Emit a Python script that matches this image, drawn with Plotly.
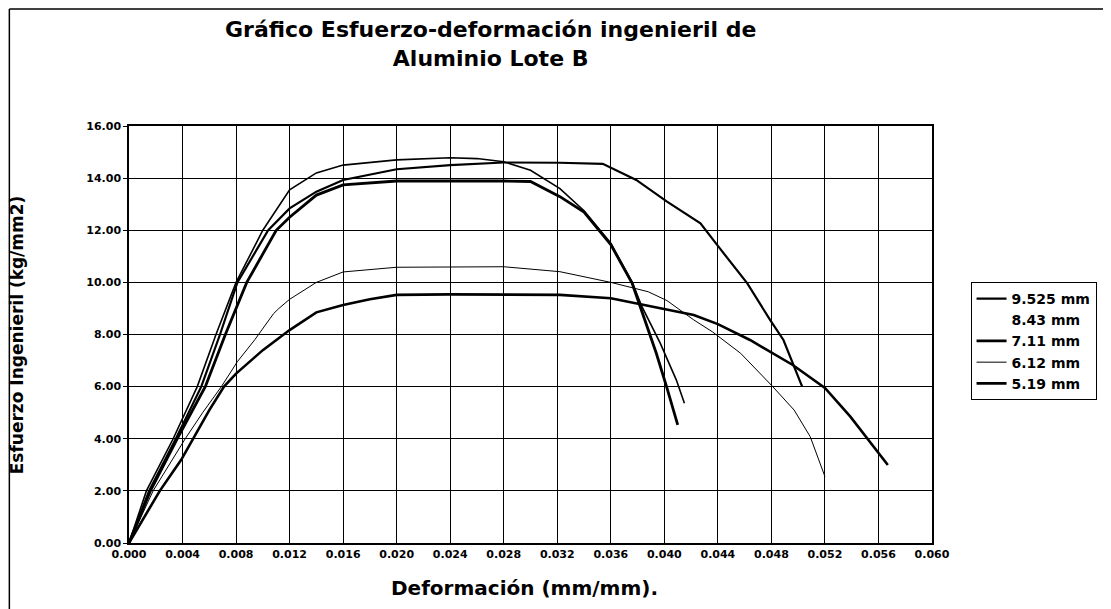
import plotly.graph_objects as go

# ---------------- data ----------------
series_names = ["9.525 mm", "8.43 mm", "7.11 mm", "6.12 mm", "5.19 mm"]

x_9525 = [0, 0.0015, 0.0035, 0.0054, 0.0068, 0.0081, 0.0104, 0.012, 0.014, 0.016, 0.020,
          0.024, 0.028, 0.0322, 0.0354, 0.0379, 0.0402, 0.0427, 0.044, 0.0462, 0.0479,
          0.0489, 0.0503]
y_9525 = [0, 2.0, 4.0, 6.0, 8.0, 10.0, 12.0, 12.84, 13.48, 13.93, 14.34,
          14.5, 14.6, 14.59, 14.55, 13.93, 13.1, 12.27, 11.4, 9.96, 8.56,
          7.79, 6.0]

x_843 = [0, 0.0013, 0.0033, 0.0051, 0.0065, 0.0080, 0.0100, 0.012, 0.014, 0.016, 0.020,
         0.024, 0.026, 0.028, 0.030, 0.0322, 0.034, 0.036, 0.0376, 0.0383, 0.0397,
         0.0409, 0.0415]
y_843 = [0, 2.0, 4.0, 6.0, 8.0, 10.0, 12.0, 13.55, 14.2, 14.5, 14.7,
         14.78, 14.75, 14.63, 14.3, 13.6, 12.75, 11.5, 10.0, 9.1, 7.66,
         6.25, 5.36]

x_711 = [0, 0.0016, 0.0036, 0.0057, 0.0072, 0.0088, 0.0110, 0.012, 0.014, 0.016, 0.020,
         0.024, 0.028, 0.030, 0.0322, 0.034, 0.036, 0.0376, 0.0381, 0.0394, 0.0402, 0.041]
y_711 = [0, 2.0, 4.0, 6.0, 8.0, 10.0, 12.0, 12.5, 13.35, 13.74, 13.89,
         13.9, 13.89, 13.87, 13.29, 12.7, 11.45, 9.96, 9.2, 7.28, 5.94, 4.53]

x_612 = [0, 0.0018, 0.0042, 0.0055, 0.0069, 0.0081, 0.0094, 0.0108, 0.0112, 0.012, 0.014,
         0.016, 0.020, 0.024, 0.028, 0.0322, 0.036, 0.0388, 0.0402, 0.0422, 0.0436,
         0.0457, 0.0481, 0.0497, 0.0509, 0.052]
y_612 = [0, 2.0, 4.0, 5.0, 6.0, 6.96, 7.8, 8.8, 9.0, 9.35, 10.0,
         10.4, 10.58, 10.6, 10.6, 10.41, 10.0, 9.64, 9.3, 8.56, 8.1,
         7.28, 6.0, 5.1, 4.08, 2.55]

x_519 = [0, 0.0023, 0.0039, 0.0048, 0.006, 0.0071, 0.008, 0.010, 0.012, 0.014, 0.016,
         0.018, 0.020, 0.024, 0.028, 0.0322, 0.036, 0.0399, 0.0422, 0.044, 0.0464,
         0.0496, 0.052, 0.0539, 0.0567]
y_519 = [0, 2.0, 3.19, 4.0, 5.1, 6.0, 6.5, 7.4, 8.17, 8.85, 9.13,
         9.35, 9.52, 9.54, 9.52, 9.52, 9.39, 9.0, 8.75, 8.4, 7.79,
         6.83, 5.95, 4.85, 2.99]

x_ticks = [0.000, 0.004, 0.008, 0.012, 0.016, 0.020, 0.024, 0.028, 0.032, 0.036,
           0.040, 0.044, 0.048, 0.052, 0.056, 0.060]
y_ticks = [0, 2, 4, 6, 8, 10, 12, 14, 16]

title_text = "Gráfico Esfuerzo-deformación ingenieril de<br>Aluminio Lote B"
x_title = "Deformación (mm/mm)."
y_title = "Esfuerzo Ingenieril (kg/mm2)"

# ---------------- figure ----------------
FONT = "DejaVu Sans"
fig = go.Figure()

fig.add_trace(go.Scatter(x=x_9525, y=y_9525, mode="lines", name=series_names[0],
                         line=dict(color="black", width=2.2)))
fig.add_trace(go.Scatter(x=x_843, y=y_843, mode="lines", name=series_names[1],
                         line=dict(color="black", width=1.6), showlegend=False,
                         legendgroup="g843"))
# legend entry for 8.43 mm (its sample line is not visible in the reference)
fig.add_trace(go.Scatter(x=[None], y=[None], mode="lines", name=series_names[1],
                         line=dict(color="white", width=1), legendgroup="g843"))
fig.add_trace(go.Scatter(x=x_711, y=y_711, mode="lines", name=series_names[2],
                         line=dict(color="black", width=2.8)))
fig.add_trace(go.Scatter(x=x_612, y=y_612, mode="lines", name=series_names[3],
                         line=dict(color="black", width=1.0)))
fig.add_trace(go.Scatter(x=x_519, y=y_519, mode="lines", name=series_names[4],
                         line=dict(color="black", width=2.6)))

fig.update_layout(
    width=1103, height=601,
    margin=dict(l=121, r=179, t=118, b=66),
    paper_bgcolor="white", plot_bgcolor="white",
    font=dict(family=FONT, color="black"),
    showlegend=True,
    legend=dict(x=1.048, y=0.626, xanchor="left", yanchor="top",
                bordercolor="black", borderwidth=1, bgcolor="white",
                font=dict(family=FONT, size=14, color="black", weight="bold"),
                tracegroupgap=0, itemwidth=30),
    xaxis=dict(range=[0, 0.06], tickvals=x_ticks, tickformat=".3f",
               showgrid=True, gridcolor="black", gridwidth=1,
               showline=True, linecolor="black", linewidth=1.5, mirror=True,
               zeroline=False, ticks="",
               tickfont=dict(family=FONT, size=11, color="black", weight="bold")),
    yaxis=dict(range=[0, 16], tickvals=y_ticks, tickformat=".2f",
               showgrid=True, gridcolor="black", gridwidth=1,
               showline=True, linecolor="black", linewidth=1.5, mirror=True,
               zeroline=False, ticks="outside", ticklen=4, tickcolor="black",
               tickfont=dict(family=FONT, size=11, color="black", weight="bold")),
    annotations=[
        dict(text="<b>" + title_text + "</b>", xref="paper", yref="paper",
             x=0.4496, y=1.197, xanchor="center", yanchor="middle", showarrow=False,
             font=dict(family=FONT, size=22, color="black")),
        dict(text="<b>" + x_title + "</b>", xref="paper", yref="paper",
             x=0.493, y=-0.108, xanchor="center", yanchor="middle", showarrow=False,
             font=dict(family=FONT, size=20, color="black")),
        dict(text="<b>" + y_title + "</b>", xref="paper", yref="paper",
             x=-0.139, y=0.499, xanchor="center", yanchor="middle", showarrow=False,
             textangle=-90, font=dict(family=FONT, size=17, color="black")),
    ],
    shapes=[
        dict(type="line", xref="paper", yref="paper", x0=-0.149, x1=1.25,
             y0=1.2806, y1=1.2806, line=dict(color="black", width=1.5)),
        dict(type="line", xref="paper", yref="paper", x0=-0.149, x1=-0.149,
             y0=1.2806, y1=-0.16, line=dict(color="black", width=1.5)),
    ],
)

fig.write_html("out.html")
